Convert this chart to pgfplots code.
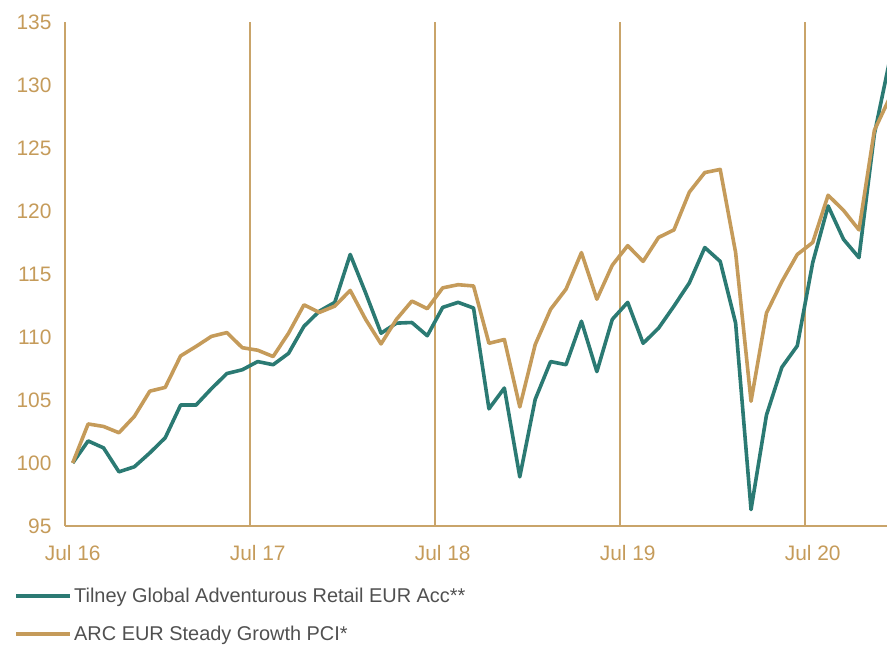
\documentclass[border=0pt]{standalone}
\usepackage{fontspec}
\setmainfont{Liberation Sans}
\usepackage{pgfplots}
\pgfplotsset{compat=1.18}
\usepackage{pgfplotstable}
\definecolor{teal}{HTML}{2B7A73}
\definecolor{gold}{HTML}{C59B5A}
\definecolor{gridgold}{HTML}{C9A46A}
\definecolor{legtext}{HTML}{505050}
\pgfplotstableread{
i teal gold
0 100.0 100.0
1 101.75 103.1
2 101.2 102.9
3 99.3 102.4
4 99.7 103.7
5 100.8 105.7
6 102.0 106.0
7 104.6 108.5
8 104.6 109.25
9 105.9 110.05
10 107.1 110.35
11 107.4 109.15
12 108.05 108.95
13 107.8 108.45
14 108.7 110.3
15 110.85 112.55
16 112.05 111.95
17 112.75 112.45
18 116.55 113.7
19 113.5 111.4
20 110.3 109.45
21 111.1 111.4
22 111.15 112.85
23 110.1 112.25
24 112.35 113.9
25 112.75 114.15
26 112.3 114.05
27 104.3 109.5
28 105.95 109.8
29 98.9 104.45
30 105.05 109.4
31 108.05 112.2
32 107.8 113.8
33 111.25 116.7
34 107.25 113.0
35 111.4 115.7
36 112.75 117.25
37 109.5 116.0
38 110.7 117.9
39 112.45 118.5
40 114.3 121.5
41 117.1 123.05
42 116.0 123.3
43 111.1 116.7
44 96.3 104.9
45 103.8 111.9
46 107.6 114.4
47 109.3 116.55
48 115.9 117.5
49 120.4 121.25
50 117.75 120.05
51 116.3 118.5
52 126.1 126.4
53 132.0 129.0
}\datatable
\begin{document}
\begin{tikzpicture}
\begin{axis}[
  name=ax,
  scale only axis,
  width=822bp, height=504bp,
  xmin=-0.5, xmax=52.82,
  ymin=95, ymax=135,
  axis x line*=bottom, axis y line*=left,
  axis line style={gridgold, line width=1.2bp},
  ytick={95,100,...,135},
  xtick={0,12,24,36,48},
  xticklabels={Jul 16,Jul 17,Jul 18,Jul 19,Jul 20},
  major tick length=0pt,
  tick style={draw=none},
  extra x ticks={11.5,23.5,35.5,47.5},
  extra x tick labels={},
  extra x tick style={grid=major, major grid style={gridgold, line width=1.2bp}},
  /pgf/number format/assume math mode=true,
  ticklabel style={font=\fontsize{21}{25}\selectfont, text=gold},
  yticklabel style={xshift=-10bp},
  xticklabel style={yshift=-16bp},
  clip=true,
  legend style={at={(axis description cs:0,0)}, anchor=north west,
    xshift=-54bp, yshift=-58bp, draw=none, fill=none,
    font=\fontsize{20}{24}\selectfont, text=legtext,
    row sep=18bp, nodes={inner sep=2bp}},
  legend cell align=left,
  legend image code/.code={\draw[#1, line width=4bp] (0bp,0bp) -- (54bp,0bp);},
]
\addplot[teal, line width=3.6bp, line join=round] table[x=i, y=teal] {\datatable};
\addlegendentry{Tilney Global Adventurous Retail EUR Acc**}
\addplot[gold, line width=3.6bp, line join=round] table[x=i, y=gold] {\datatable};
\addlegendentry{ARC EUR Steady Growth PCI*}
\end{axis}
\pgfresetboundingbox
\path[use as bounding box] ([xshift=-65bp,yshift=-120bp]ax.south west) rectangle ([yshift=22bp]ax.north east);
\end{tikzpicture}
\end{document}
